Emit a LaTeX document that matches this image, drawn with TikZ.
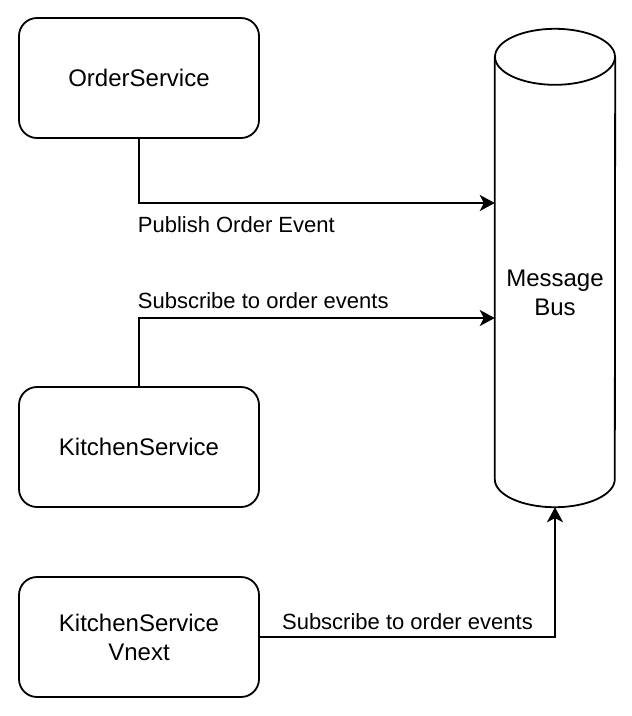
\documentclass[tikz,border=0pt]{standalone}
\usepackage{fontspec}
\setmainfont{Liberation Sans}
\usetikzlibrary{arrows.meta}

\begin{document}
\begin{tikzpicture}
[
    x=1pt, y=-1pt,
    every node/.style={font=\fontsize{22}{27}\selectfont},
    service/.style={draw, line width=1.8pt, rounded corners=18pt, minimum width=240pt, minimum height=120pt, align=center, font=\fontsize{24}{29}\selectfont},
    flow/.style={line width=1.8pt, -{Stealth[length=15pt, width=16pt, inset=4pt]}}
]
    \useasboundingbox (0, 0) rectangle (632, 716);

    \node [service] (order) at (139, 78) {OrderService};
    \node [service] (kitchen) at (139, 447) {KitchenService};
    \node [service] (vnext) at (139, 637) {KitchenService\\Vnext};

    % message bus cylinder
    \node [minimum width=120pt, minimum height=478pt, inner sep=0] (bus) at (555, 268) {};
    \draw [line width=1.8pt] ([yshift=-28pt]bus.north) ellipse [x radius=60pt, y radius=28pt];
    \draw [line width=1.8pt] ([yshift=-28pt]bus.north west) -- ([yshift=28pt]bus.south west)
        arc [start angle=180, end angle=360, x radius=60pt, y radius=28pt]
        -- ([yshift=-28pt]bus.north east);
    \node [align=center, font=\fontsize{24}{29}\selectfont] (busname) at (555, 293) {Message\\Bus};

    \draw [flow] (order.south) |- ([yshift=65pt]bus.west)
        node [pos=0.5, anchor=base west, inner sep=0, xshift=-2pt, yshift=-29pt] {Publish Order Event};
    \draw [flow] (kitchen.north) |- ([yshift=-50pt]bus.west)
        node [pos=0.5, anchor=base west, inner sep=0, xshift=-2pt, yshift=10pt] {Subscribe to order events};
    \draw [flow] (vnext.east) -| (bus.south)
        node [pos=0.25, anchor=base, inner sep=0, yshift=8pt] {Subscribe to order events};
\end{tikzpicture}
\end{document}
